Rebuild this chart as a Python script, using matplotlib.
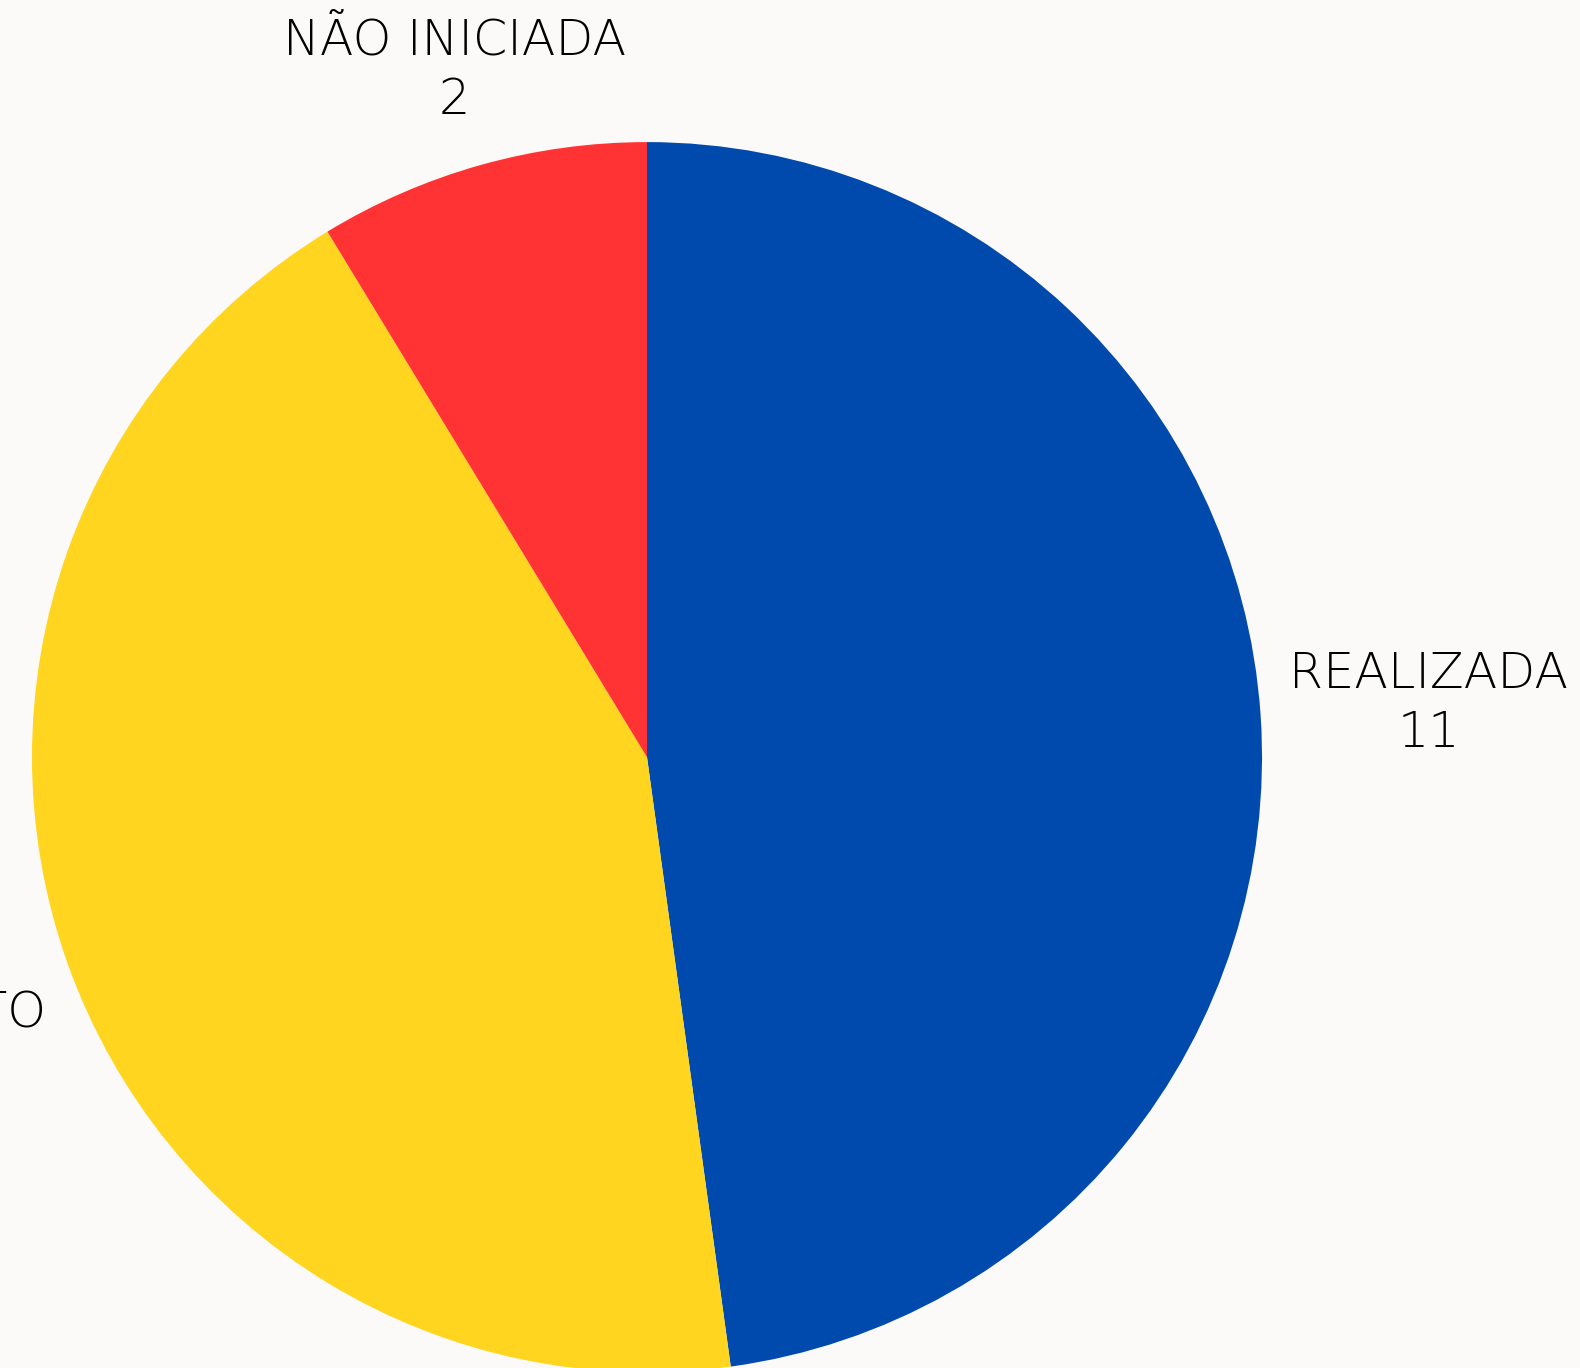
import numpy as np
import matplotlib.pyplot as plt

# dados do gráfico
categorias = ['REALIZADA', 'EM ANDAMENTO', 'NÃO INICIADA']
valores = [11, 10, 2]
cores = ['#004AAD', '#FFD520', '#FF3333']

# distância do rótulo ao centro (em raios)
raio_rotulo = [1.274, 1.39, 1.16]

fig = plt.figure(figsize=(15.8, 13.68), dpi=100, facecolor='#FBFAF8')
ax = fig.add_axes([0, 0, 1, 1])
ax.set_facecolor('#FBFAF8')

wedges, _ = ax.pie(valores, colors=cores, startangle=90, counterclock=False,
                   radius=1, wedgeprops=dict(linewidth=0))

for w, cat, val, rr in zip(wedges, categorias, valores, raio_rotulo):
    ang = np.deg2rad((w.theta1 + w.theta2) / 2)
    ax.text(rr * np.cos(ang), rr * np.sin(ang), f'{cat}\n{val}',
            ha='center', va='center', multialignment='center',
            fontsize=35.5, family='DejaVu Sans', fontweight='light',
            color='#000000', linespacing=1.3)

ax.set_aspect('auto')
ax.set_xlim(-1.052, 1.517)
ax.set_ylim(-0.993, 1.231)
ax.axis('off')

fig.savefig('out.png', dpi=100, facecolor=fig.get_facecolor())
